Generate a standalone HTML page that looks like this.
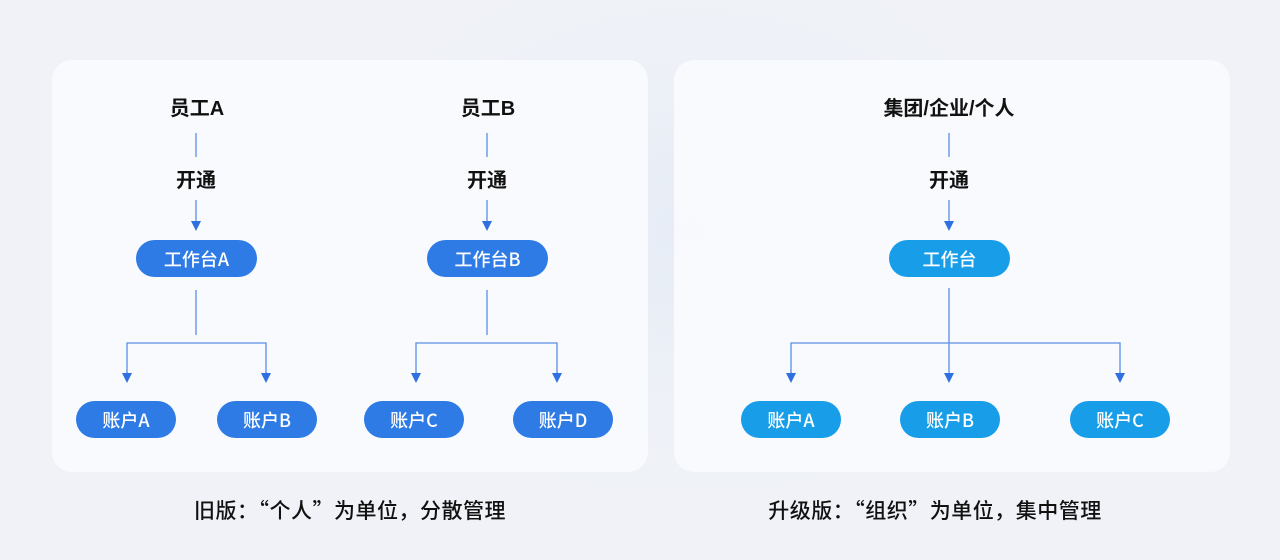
<!DOCTYPE html>
<html><head><meta charset="utf-8"><style>
*{margin:0;padding:0;box-sizing:border-box}
body{width:1280px;height:560px;overflow:hidden;position:relative;font-family:"Liberation Sans","Noto Sans CJK SC",sans-serif;background:radial-gradient(ellipse 400px 300px at 690px 230px,#e6ecf6,#eef1f7 60%,#f0f2f7);}
.panel{position:absolute;top:60px;height:412px;border-radius:20px;background:rgba(250,251,254,0.85)}
.t{position:absolute;transform:translateX(-50%);font-weight:bold;font-size:20px;color:#111;white-space:nowrap;line-height:24px}
.p{position:absolute;height:37px;border-radius:19px;color:#fff;font-size:18px;font-weight:500;font-family:"Noto Sans CJK SC",sans-serif;display:flex;align-items:center;justify-content:center;white-space:nowrap}
.a{background:#2f7be6}.b{background:#189ee9}
.c{position:absolute;top:495px;font-size:21px;font-weight:500;letter-spacing:0.5px;font-family:"Noto Sans CJK SC",sans-serif;color:#111;transform:translateX(-50%);white-space:nowrap;line-height:30px}
svg{position:absolute;left:0;top:0}
</style></head><body>
<div class="panel" style="left:52px;width:596px"></div>
<div class="panel" style="left:674px;width:556px"></div>
<svg width="1280" height="560">
<defs><marker id="m" markerWidth="10" markerHeight="10" refX="5" refY="5" orient="auto" markerUnits="userSpaceOnUse" viewBox="0 0 10 10"><path d="M0,0 L10,5 L0,10z" fill="#2f6fe0"/></marker></defs>
<g stroke="#5b8ee6" stroke-width="1.3" fill="none">
<line x1="196" y1="133" x2="196" y2="157"/><line x1="196" y1="200" x2="196" y2="226" marker-end="url(#m)"/>
<line x1="196" y1="290" x2="196" y2="335"/><polyline points="127,377 127,343 266,343 266,377"/>
<line x1="127" y1="372" x2="127" y2="378" marker-end="url(#m)"/><line x1="266" y1="372" x2="266" y2="378" marker-end="url(#m)"/>
<line x1="487" y1="133" x2="487" y2="157"/><line x1="487" y1="200" x2="487" y2="226" marker-end="url(#m)"/>
<line x1="487" y1="290" x2="487" y2="335"/><polyline points="416,377 416,343 557,343 557,377"/>
<line x1="416" y1="372" x2="416" y2="378" marker-end="url(#m)"/><line x1="557" y1="372" x2="557" y2="378" marker-end="url(#m)"/>
<line x1="949" y1="133" x2="949" y2="157"/><line x1="949" y1="200" x2="949" y2="226" marker-end="url(#m)"/>
<line x1="949" y1="288" x2="949" y2="378" marker-end="url(#m)"/><polyline points="791,377 791,343 1120,343 1120,377"/>
<line x1="791" y1="372" x2="791" y2="378" marker-end="url(#m)"/><line x1="1120" y1="372" x2="1120" y2="378" marker-end="url(#m)"/>
</g></svg>
<div class="t" style="left:197px;top:97px">员工A</div>
<div class="t" style="left:196px;top:169px">开通</div>
<div class="t" style="left:488px;top:97px">员工B</div>
<div class="t" style="left:487px;top:169px">开通</div>
<div class="t" style="left:949px;top:97px">集团/企业/个人</div>
<div class="t" style="left:949px;top:169px">开通</div>
<div class="p a" style="left:136px;top:240px;width:121px">工作台A</div>
<div class="p a" style="left:427px;top:240px;width:121px">工作台B</div>
<div class="p b" style="left:889px;top:240px;width:121px">工作台</div>
<div class="p a" style="left:76px;top:401px;width:100px">账户A</div>
<div class="p a" style="left:217px;top:401px;width:100px">账户B</div>
<div class="p a" style="left:364px;top:401px;width:100px">账户C</div>
<div class="p a" style="left:513px;top:401px;width:100px">账户D</div>
<div class="p b" style="left:741px;top:401px;width:100px">账户A</div>
<div class="p b" style="left:900px;top:401px;width:100px">账户B</div>
<div class="p b" style="left:1070px;top:401px;width:100px">账户C</div>
<div class="c" style="left:350px">旧版：“个人”为单位，分散管理</div>
<div class="c" style="left:935px">升级版：“组织”为单位，集中管理</div>
</body></html>
